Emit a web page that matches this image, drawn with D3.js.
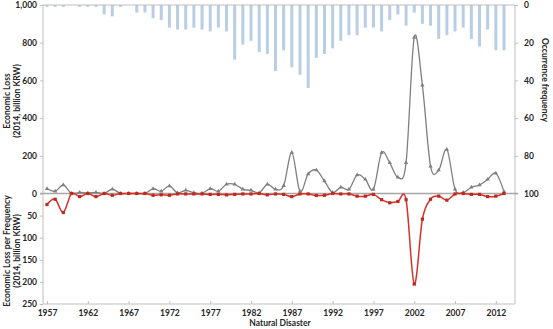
<!DOCTYPE html>
<html>
<head>
<script src="https://d3js.org/d3.v7.min.js"></script>
<style>
  body { margin: 0; background: #fff; }
  text { font-family: Lato, "Open Sans", sans-serif; font-weight: bold; fill: #262626; }
</style>
</head>
<body>
<svg class="target" width="553" height="329"></svg>
<script>

// years on the category axis
years = [1957,1958,1959,1960,1961,1962,1963,1964,1965,1966,1967,1968,1969,1970,1971,1972,1973,1974,1975,1976,
         1977,1978,1979,1980,1981,1982,1983,1984,1985,1986,1987,1988,1989,1990,1991,1992,1993,1994,1995,1996,
         1997,1998,1999,2000,2001,2002,2003,2004,2005,2006,2007,2008,2009,2010,2011,2012,2013]

// occurrence frequency (bars hanging from the top, right axis)
freq = [1,1,1,0,1,1,1,5,6,1,0,4,4,7,8,12,13,13,12,13,
        14,12,14,29,21,19,25,26,35,24,33,37,44,28,26,23,19,16,16,12,
        12,14,8,5,11,4,10,11,18,16,14,12,18,22,13,24,24]

// economic loss (2014, billion KRW) - grey line
loss = [25,12,45,0,6,2,6,0,23,0,0,0,0,25,12,40,3,17,4,1,
        25,12,49,49,22,17,3,49,22,41,217,12,103,124,66,5,33,22,98,75,
        22,216,163,86,163,828,574,145,124,234,22,5,33,45,75,107,10]

// economic loss per frequency - red line
lossPerFreq = [25,13,43,0,7,0,7,0,4,0,0,0,0,4,3,4,1,1,1,1,
               2,2,3,2,1,1,0,3,1,2,7,1,1,4.5,4,0,1,1,6,6,
               2,14,21,18,14,205,58,13,6,15,1,0,2,2,7,6,0]

leftTicksTop = [0, 200, 400, 600, 800, 1000]
leftTicksBottom = [50, 100, 150, 200, 250]
rightTicks = [0, 20, 40, 60, 80, 100]
xTicks = [1957,1962,1967,1972,1977,1982,1987,1992,1997,2002,2007,2012]

width = 553
height = 329
margin = ({ top: 5, right: 38, bottom: 25, left: 43 })
mid = 193.5
plotRight = width - margin.right
plotBottom = height - margin.bottom

const svg = d3.select('.target')

xScale = d3.scaleLinear([1957, 2013], [47, 504])
yLoss = d3.scaleLinear([0, 1000], [mid, margin.top])
yFreq = d3.scaleLinear([0, 100], [margin.top, mid])
yPer = d3.scaleLinear([0, 250], [mid, plotBottom])

rows = years.map((y, i) => ({ year: y, freq: freq[i], loss: loss[i], per: lossPerFreq[i] }))

// bars
svg.append('g')
  .selectAll('rect')
  .data(rows)
  .join('rect')
    .attr('x', d => xScale(d.year) - 1.5)
    .attr('y', yFreq(0))
    .attr('width', 3)
    .attr('height', d => yFreq(d.freq) - yFreq(0))
    .attr('fill', '#b9cde5')

const axisColor = '#bfbfbf'

// left axis, top part
svg.append('g')
    .attr('transform', `translate(${margin.left},0)`)
  .call(d3.axisLeft(yLoss).tickValues(leftTicksTop).tickFormat(d3.format(',')).tickSize(3).tickPadding(3))
  .call(g => g.select('.domain').remove())
// left axis, bottom part
svg.append('g')
    .attr('transform', `translate(${margin.left},0)`)
  .call(d3.axisLeft(yPer).tickValues(leftTicksBottom).tickSize(3).tickPadding(3))
  .call(g => g.select('.domain').remove())
// right axis
svg.append('g')
    .attr('transform', `translate(${plotRight},0)`)
  .call(d3.axisRight(yFreq).tickValues(rightTicks).tickSize(3).tickPadding(6))
  .call(g => g.select('.domain').remove())
// x axis
svg.append('g')
    .attr('transform', `translate(0,${plotBottom})`)
  .call(d3.axisBottom(xScale).tickValues(xTicks).tickFormat(d3.format('d')).tickSize(-3).tickPadding(6))
  .call(g => g.select('.domain').remove())

svg.selectAll('.tick line').attr('stroke', axisColor)
svg.selectAll('.tick text').style('font-size', '8.5px')

// frame lines
svg.append('line').attr('x1', margin.left).attr('x2', margin.left).attr('y1', margin.top).attr('y2', plotBottom)
  .attr('stroke', axisColor)
svg.append('line').attr('x1', plotRight).attr('x2', plotRight).attr('y1', margin.top).attr('y2', plotBottom)
  .attr('stroke', axisColor)
svg.append('line').attr('x1', margin.left).attr('x2', plotRight).attr('y1', margin.top).attr('y2', margin.top)
  .attr('stroke', axisColor)
svg.append('line').attr('x1', margin.left).attr('x2', plotRight).attr('y1', plotBottom).attr('y2', plotBottom)
  .attr('stroke', axisColor)
svg.append('line').attr('x1', margin.left - 3).attr('x2', plotRight + 3).attr('y1', mid).attr('y2', mid)
  .attr('stroke', '#a6a6a6').attr('stroke-width', 1.5)

// grey line
lossLine = d3.line().x(d => xScale(d.year)).y(d => yLoss(d.loss)).curve(d3.curveCardinal)
svg.append('path').datum(rows)
    .attr('d', lossLine)
    .attr('fill', 'none').attr('stroke', '#7f7f7f').attr('stroke-width', 1.3)
svg.append('g').selectAll('path')
  .data(rows)
  .join('path')
    .attr('transform', d => `translate(${xScale(d.year)},${yLoss(d.loss)})`)
    .attr('d', d3.symbol(d3.symbolTriangle, 8))
    .attr('fill', '#7f7f7f')

// red line
perLine = d3.line().x(d => xScale(d.year)).y(d => yPer(d.per)).curve(d3.curveCardinal)
svg.append('path').datum(rows)
    .attr('d', perLine)
    .attr('fill', 'none').attr('stroke', '#d43228').attr('stroke-width', 1.5)
svg.append('g').selectAll('rect')
  .data(rows)
  .join('rect')
    .attr('x', d => xScale(d.year) - 1.6)
    .attr('y', d => yPer(d.per) - 1.6)
    .attr('width', 3.2).attr('height', 3.2)
    .attr('fill', '#c0281e')

// axis titles
function vTitle(x, y, lines, rot) {
  const t = svg.append('text')
    .attr('transform', `translate(${x},${y}) rotate(${rot})`)
    .attr('text-anchor', 'middle')
    .style('font-size', '8.5px')
  lines.forEach((s, i) => t.append('tspan').attr('x', 0).attr('dy', i ? 10 : 0).text(s))
}
vTitle(10, 101, ['Economic Loss', '(2014, billion KRW)'], -90)
vTitle(10, 251, ['Economic Loss per Frequency', '(2014, billion KRW)'], -90)
vTitle(542, 80, ['Occurrence frequency'], 90)

svg.append('text')
  .attr('x', 280).attr('y', 326)
  .attr('text-anchor', 'middle')
  .style('font-size', '8.5px')
  .text('Natural Disaster')

</script>
</body>
</html>
